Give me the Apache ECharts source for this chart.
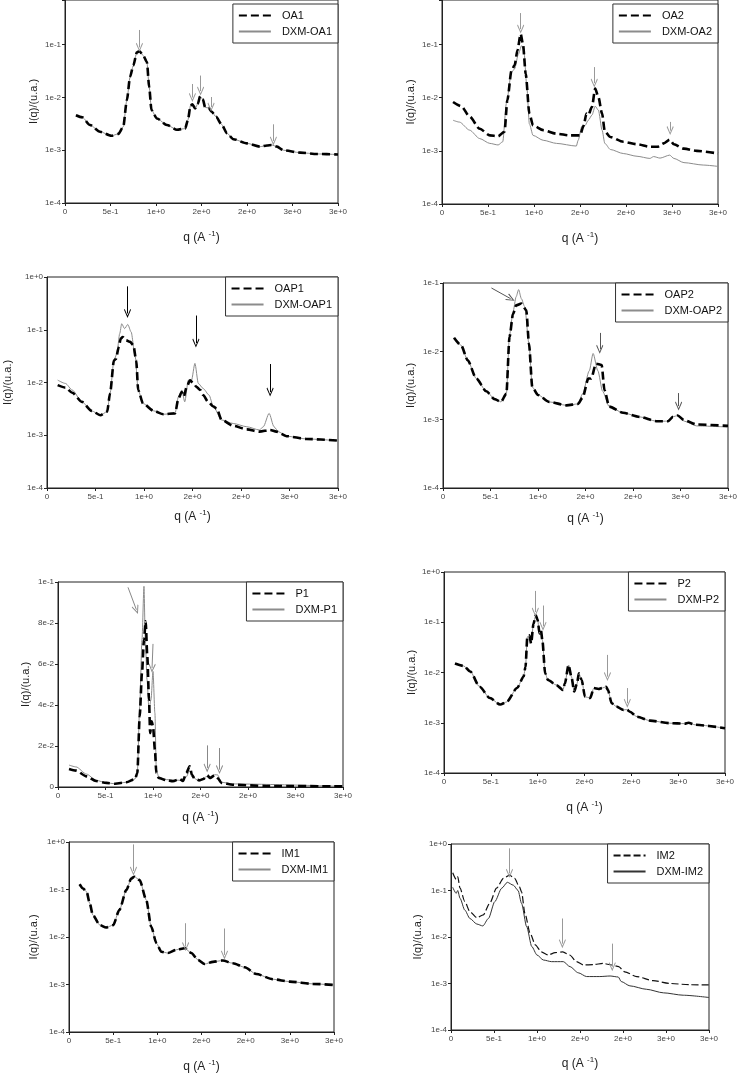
<!DOCTYPE html>
<html><head><meta charset="utf-8">
<script src="https://cdn.jsdelivr.net/npm/echarts@6/dist/echarts.min.js"></script>
<style>html,body{margin:0;padding:0;background:#fff}#c{width:741px;height:1074px}</style>
</head><body><div id="c"></div>
<script>
// ---------- tick labels ----------
const xTickLabels = ['0','5e-1','1e+0','2e+0','2e+0','3e+0','3e+0'];
const logTickLabels = ['1e-4','1e-3','1e-2','1e-1','1e+0'];
const linTickLabels = ['0','2e-2','4e-2','6e-2','8e-2','1e-1'];

// ---------- OA1 ----------
const oa1Q = [0.12,0.19,0.275,0.385,0.51,0.587,0.64,0.68,0.715,0.75,0.79,0.82,0.86,0.9,0.925,0.95,1.01,1.12,1.23,1.32,1.35,1.38,1.40,1.43,1.46,1.485,1.515,1.54,1.58,1.61,1.66,1.72,1.78,1.85,2.0,2.145,2.22,2.27,2.33,2.40,2.585,2.77,3.0];
const oa1I = [4.6e-3,4.2e-3,3.0e-3,2.24e-3,1.88e-3,2.04e-3,2.78e-3,8.9e-3,2.45e-2,4.0e-2,7.2e-2,7.5e-2,6.2e-2,4.7e-2,1.58e-2,5.8e-3,4.0e-3,3.0e-3,2.45e-3,2.57e-3,3.7e-3,7.1e-3,7.4e-3,6.2e-3,7.6e-3,1.05e-2,9.2e-3,6.5e-3,6.3e-3,5.4e-3,4.3e-3,3.1e-3,2.1e-3,1.62e-3,1.35e-3,1.17e-3,1.23e-3,1.26e-3,1.17e-3,1.0e-3,9.0e-4,8.5e-4,8.3e-4];
const dxmOa1Q = oa1Q;
const dxmOa1I = oa1I;
const oa1Arrows = [[[0.818,0.19],[0.818,0.089]],[[1.40,0.018],[1.40,0.0100]],[[1.49,0.026],[1.49,0.0132]],[[1.605,0.0102],[1.605,0.0066]],[[2.29,0.0031],[2.29,0.0015]]];

// ---------- OA2 ----------
const oa2Q = [0.12,0.21,0.30,0.41,0.52,0.61,0.68,0.71,0.755,0.79,0.82,0.855,0.88,0.91,0.95,0.99,1.10,1.245,1.39,1.50,1.54,1.57,1.59,1.63,1.665,1.70,1.74,1.77,1.83,1.97,2.12,2.26,2.34,2.41,2.475,2.52,2.63,2.77,3.0];
const oa2I = [8.3e-3,6.9e-3,4.4e-3,2.6e-3,1.95e-3,1.88e-3,2.3e-3,8.9e-3,3.2e-2,4.1e-2,7.8e-2,0.158,0.102,2.8e-2,5.0e-3,3.0e-3,2.45e-3,2.1e-3,1.95e-3,1.95e-3,3.0e-3,5.0e-3,4.7e-3,6.7e-3,1.48e-2,1.02e-2,5.0e-3,2.3e-3,1.82e-3,1.48e-3,1.33e-3,1.19e-3,1.19e-3,1.38e-3,1.62e-3,1.33e-3,1.10e-3,1.0e-3,8.9e-4];
const dxmOa2Q = [0.12,0.19,0.30,0.41,0.52,0.61,0.66,0.70,0.755,0.79,0.83,0.865,0.89,0.92,0.95,0.99,1.10,1.245,1.46,1.48,1.52,1.555,1.59,1.63,1.665,1.70,1.74,1.77,1.83,1.97,2.12,2.26,2.30,2.37,2.475,2.52,2.63,2.84,3.0];
const dxmOa2I = [3.76e-3,3.47e-3,2.45e-3,1.70e-3,1.38e-3,1.29e-3,1.48e-3,7.8e-3,3.0e-2,3.5e-2,6.6e-2,9.5e-2,7.8e-2,1.8e-2,3.2e-3,1.95e-3,1.58e-3,1.38e-3,1.23e-3,1.58e-3,2.9e-3,3.0e-3,3.76e-3,4.7e-3,6.9e-3,5.8e-3,2.45e-3,1.38e-3,1.06e-3,8.9e-4,7.9e-4,7.2e-4,7.8e-4,7.3e-4,8.3e-4,7.2e-4,6.0e-4,5.4e-4,5.1e-4];
const oa2Arrows = [[[0.855,0.39],[0.855,0.195]],[[1.655,0.0376],[1.655,0.0188]],[[2.48,0.0035],[2.48,0.0024]]];

// ---------- OAP1 ----------
const oap1Q = [0.11,0.19,0.26,0.36,0.46,0.55,0.62,0.65,0.69,0.71,0.74,0.76,0.78,0.815,0.857,0.89,0.92,0.94,0.99,1.10,1.20,1.32,1.355,1.39,1.41,1.44,1.475,1.51,1.54,1.58,1.61,1.66,1.715,1.75,1.80,1.92,2.06,2.19,2.30,2.365,2.47,2.675,3.0];
const oap1I = [8.9e-3,8.0e-3,6.4e-3,4.3e-3,2.9e-3,2.4e-3,2.8e-3,6.2e-3,2.6e-2,2.8e-2,4.7e-2,6.8e-2,7.3e-2,6.3e-2,5.9e-2,5.1e-2,2.6e-2,7.2e-3,4.0e-3,2.9e-3,2.5e-3,2.6e-3,5.0e-3,6.6e-3,5.4e-3,8.3e-3,1.1e-2,9.6e-3,8.3e-3,7.2e-3,5.8e-3,4.3e-3,3.5e-3,3.2e-3,1.95e-3,1.51e-3,1.29e-3,1.17e-3,1.26e-3,1.17e-3,9.6e-4,8.5e-4,7.9e-4];
const dxmOap1Q = [0.11,0.19,0.26,0.36,0.46,0.55,0.62,0.65,0.69,0.72,0.75,0.77,0.80,0.833,0.867,0.909,0.94,0.99,1.10,1.20,1.32,1.355,1.39,1.42,1.457,1.49,1.525,1.56,1.61,1.67,1.715,1.80,1.92,2.06,2.19,2.23,2.29,2.34,2.385,2.47,2.675,3.0];
const dxmOap1I = [1.11e-2,9.6e-3,7.2e-3,4.3e-3,2.9e-3,2.4e-3,2.8e-3,6.2e-3,2.6e-2,3.5e-2,8.5e-2,0.13,0.105,0.126,9.1e-2,3.1e-2,7.2e-3,4.0e-3,2.9e-3,2.5e-3,2.6e-3,5.4e-3,7.2e-3,4.3e-3,1.11e-2,1.11e-2,2.3e-2,9.6e-3,7.7e-3,5.8e-3,3.5e-3,1.95e-3,1.67e-3,1.45e-3,1.26e-3,1.45e-3,2.6e-3,1.45e-3,1.17e-3,9.6e-4,8.5e-4,7.9e-4];
const oap1Arrows = [[[0.83,0.665],[0.83,0.204]],[[1.535,0.186],[1.535,0.056]],[[2.30,0.0224],[2.30,0.0066]]];

// ---------- OAP2 ----------
const oap2Q = [0.116,0.19,0.26,0.35,0.456,0.544,0.61,0.667,0.70,0.737,0.77,0.825,0.877,0.905,0.94,1.0,1.12,1.30,1.42,1.47,1.53,1.56,1.61,1.67,1.70,1.75,1.895,2.07,2.245,2.37,2.42,2.47,2.54,2.67,3.0];
const oap2I = [1.58e-2,1.23e-2,7.4e-3,4.0e-3,2.6e-3,2.0e-3,1.82e-3,2.4e-3,1.62e-2,3.5e-2,4.7e-2,5.0e-2,4.0e-2,1.29e-2,3.0e-3,2.3e-3,1.82e-3,1.62e-3,1.70e-3,2.1e-3,4.0e-3,4.0e-3,6.6e-3,6.3e-3,2.7e-3,1.55e-3,1.26e-3,1.10e-3,9.5e-4,9.5e-4,1.10e-3,1.15e-3,9.8e-4,8.5e-4,8.1e-4];
const dxmOap2Q = [0.116,0.19,0.26,0.35,0.456,0.544,0.61,0.667,0.70,0.737,0.77,0.796,0.825,0.86,0.905,0.94,1.0,1.12,1.30,1.42,1.47,1.54,1.58,1.63,1.68,1.75,1.895,2.07,2.245,2.37,2.42,2.47,2.54,2.67,3.0];
const dxmOap2I = [1.58e-2,1.23e-2,7.4e-3,4.0e-3,2.6e-3,2.0e-3,1.82e-3,2.4e-3,1.72e-2,3.8e-2,6.3e-2,8.0e-2,5.9e-2,4.5e-2,1.29e-2,3.0e-3,2.3e-3,1.82e-3,1.62e-3,1.70e-3,2.4e-3,5.2e-3,9.3e-3,5.2e-3,2.6e-3,1.55e-3,1.26e-3,1.10e-3,9.5e-4,9.5e-4,1.10e-3,1.15e-3,9.5e-4,8.1e-4,7.8e-4];
const oap2Arrows = [[[0.51,0.0845],[0.712,0.059]],[[1.65,0.0186],[1.65,0.0107]],[[2.48,0.00245],[2.48,0.00158]]];

// ---------- P1 (linear) ----------
const p1Q = [0.116,0.19,0.30,0.40,0.51,0.60,0.72,0.81,0.835,0.86,0.884,0.905,0.923,0.94,0.958,0.97,0.986,1.0,1.02,1.035,1.06,1.14,1.21,1.28,1.315,1.35,1.386,1.41,1.44,1.49,1.53,1.57,1.60,1.65,1.68,1.72,1.84,2.19,3.0];
const p1I = [0.0088,0.0080,0.0052,0.0029,0.0020,0.0016,0.0023,0.0039,0.0068,0.0345,0.0556,0.0719,0.0808,0.0637,0.0426,0.0263,0.0320,0.0296,0.0182,0.0068,0.0044,0.0033,0.0028,0.0039,0.0029,0.0068,0.0101,0.0060,0.0039,0.0033,0.0039,0.0057,0.0044,0.0057,0.0044,0.0020,0.0011,0.0005,0.0003];
const dxmP1Q = [0.116,0.19,0.30,0.40,0.51,0.60,0.72,0.81,0.835,0.86,0.884,0.905,0.919,0.937,0.958,0.979,1.0,1.02,1.035,1.06,1.14,1.28,1.35,1.386,1.41,1.49,1.57,1.60,1.65,1.68,1.72,1.84,3.0];
const dxmP1I = [0.0107,0.0098,0.0063,0.0033,0.0020,0.0016,0.0023,0.0039,0.0068,0.0393,0.0719,0.0979,0.0719,0.0524,0.0377,0.0426,0.0564,0.0361,0.0085,0.0049,0.0036,0.0033,0.0049,0.0080,0.0049,0.0028,0.0052,0.0039,0.0060,0.0059,0.0023,0.0015,0.0003];
const p1Arrows = [[[0.737,0.0974],[0.825,0.0865]],[[1.0,0.0698],[0.99,0.058]],[[1.57,0.0203],[1.57,0.0093]],[[1.70,0.019],[1.70,0.0085]]];

// ---------- P2 ----------
const p2Q = [0.117,0.21,0.28,0.38,0.49,0.60,0.67,0.78,0.85,0.87,0.89,0.91,0.93,0.955,0.98,1.0,1.02,1.035,1.05,1.08,1.11,1.20,1.27,1.29,1.33,1.36,1.39,1.42,1.44,1.47,1.505,1.56,1.60,1.65,1.69,1.73,1.75,1.79,1.84,1.915,1.95,1.985,2.06,2.20,2.41,2.57,2.61,2.68,3.0];
const p2I = [1.51e-2,1.35e-2,1.05e-2,5.2e-3,3.1e-3,2.3e-3,2.6e-3,4.9e-3,8.3e-3,1.30e-2,5.1e-2,5.5e-2,3.8e-2,9.3e-2,0.138,0.11,6.0e-2,6.9e-2,4.4e-2,9.6e-3,7.1e-3,5.6e-3,4.5e-3,6.0e-3,1.41e-2,8.3e-3,4.2e-3,6.0e-3,9.6e-3,7.1e-3,3.3e-3,3.1e-3,4.9e-3,4.7e-3,4.9e-3,5.2e-3,4.5e-3,2.45e-3,2.1e-3,1.80e-3,1.83e-3,1.66e-3,1.32e-3,1.10e-3,9.8e-4,9.6e-4,1.0e-3,9.1e-4,7.8e-4];
const dxmP2Q = p2Q;
const dxmP2I = p2I;
const p2Arrows = [[[0.975,0.42],[0.975,0.16]],[[1.057,0.215],[1.057,0.0836]],[[1.745,0.0224],[1.745,0.0083]],[[1.957,0.0049],[1.957,0.00245]]];

// ---------- IM1 ----------
const im1Q = [0.12,0.16,0.20,0.235,0.27,0.35,0.42,0.50,0.57,0.65,0.705,0.74,0.80,0.875,0.93,0.99,1.045,1.12,1.215,1.31,1.385,1.46,1.535,1.63,1.74,1.855,1.99,2.12,2.31,2.50,2.76,3.0];
const im1I = [0.129,0.105,8.9e-2,5.1e-2,2.9e-2,1.78e-2,1.58e-2,1.78e-2,3.7e-2,9.8e-2,0.17,0.186,0.158,6.0e-2,1.66e-2,7.4e-3,4.9e-3,4.6e-3,5.4e-3,5.8e-3,4.6e-3,3.3e-3,2.7e-3,3.0e-3,3.2e-3,2.8e-3,2.3e-3,1.66e-3,1.29e-3,1.15e-3,1.03e-3,9.8e-4];
const dxmIm1Q = im1Q;
const dxmIm1I = im1I;
const im1Arrows = [[[0.73,0.89],[0.73,0.245]],[[1.32,0.0195],[1.32,0.0063]],[[1.76,0.0151],[1.76,0.0042]]];

// ---------- IM2 ----------
const im2Q = [0.02,0.06,0.078,0.105,0.16,0.22,0.30,0.376,0.45,0.53,0.61,0.68,0.74,0.795,0.82,0.86,0.92,0.98,1.05,1.13,1.21,1.30,1.38,1.46,1.54,1.655,1.77,1.87,1.95,2.02,2.16,2.35,2.55,2.78,3.0];
const im2I = [0.24,0.174,0.20,0.112,5.8e-2,3.5e-2,2.6e-2,3.0e-2,5.3e-2,0.112,0.182,0.214,0.182,0.12,9.4e-2,3.2e-2,1.2e-2,6.8e-3,4.8e-3,4.1e-3,4.6e-3,4.8e-3,4.1e-3,2.95e-3,2.5e-3,2.55e-3,2.7e-3,2.5e-3,2.3e-3,1.78e-3,1.41e-3,1.15e-3,1.0e-3,9.4e-4,9.3e-4];
const dxmIm2Q = [0.02,0.06,0.078,0.105,0.16,0.22,0.30,0.37,0.435,0.51,0.59,0.655,0.725,0.78,0.82,0.88,0.94,1.0,1.074,1.17,1.306,1.384,1.48,1.577,1.73,1.85,1.945,1.98,2.08,2.275,2.47,2.70,3.0];
const dxmIm2I = [0.117,8.7e-2,0.10,6.8e-2,3.8e-2,2.5e-2,1.9e-2,1.73e-2,2.5e-2,5.8e-2,0.112,0.15,0.13,0.10,5.3e-2,1.66e-2,6.2e-3,4.1e-3,3.2e-3,2.95e-3,2.95e-3,2.3e-3,1.7e-3,1.41e-3,1.41e-3,1.45e-3,1.38e-3,1.1e-3,8.9e-4,7.5e-4,6.3e-4,5.6e-4,5.0e-4];
const im2Arrows = [[[0.68,0.807],[0.68,0.234]],[[1.295,0.025],[1.295,0.0072]],[[1.875,0.0072],[1.875,0.0023]]];

// ---------- layout / styles ----------
const FONT = 'Liberation Sans, Arial, sans-serif';
const W = 741;
const thick = {type:[8,4], width:2.6, color:'#000'};
const thin = {type:'solid', width:1, color:'#8c8c8c'};
const panels = [
  {names:['OA1','DXM-OA1'], d:[oa1Q,oa1I], x:[dxmOa1Q,dxmOa1I], arrows:oa1Arrows, arrowColor:'#999',
   grid:{left:65,top:-1,width:273,height:204}, yMin:1e-4, yMax:0.703, yNameGap:26, xNameGap:27, leg:{right:W-338,top:4}},
  {names:['OA2','DXM-OA2'], d:[oa2Q,oa2I], x:[dxmOa2Q,dxmOa2I], arrows:oa2Arrows, arrowColor:'#999',
   grid:{left:442,top:-1,width:276,height:205}, yMin:1e-4, yMax:0.687, yNameGap:26, xNameGap:27, leg:{right:W-718,top:4}},
  {names:['OAP1','DXM-OAP1'], d:[oap1Q,oap1I], x:[dxmOap1Q,dxmOap1I], arrows:oap1Arrows, arrowColor:'#000',
   grid:{left:47,top:277,width:291,height:211}, yMin:1e-4, yMax:1, yNameGap:34, xNameGap:21, leg:{right:W-338,top:277}},
  {names:['OAP2','DXM-OAP2'], d:[oap2Q,oap2I], x:[dxmOap2Q,dxmOap2I], arrows:oap2Arrows, arrowColor:'#555',
   grid:{left:443,top:283,width:285,height:205}, yMin:1e-4, yMax:0.1, yNameGap:27, xNameGap:23, leg:{right:W-728,top:283}},
  {names:['P1','DXM-P1'], d:[p1Q,p1I], x:[dxmP1Q,dxmP1I], arrows:p1Arrows, arrowColor:'#888', linear:true,
   grid:{left:58,top:582,width:285,height:205}, yMin:0, yMax:0.1, yNameGap:27, xNameGap:23, leg:{right:W-343,top:582}},
  {names:['P2','DXM-P2'], d:[p2Q,p2I], x:[dxmP2Q,dxmP2I], arrows:p2Arrows, arrowColor:'#999',
   grid:{left:444,top:572,width:281,height:201}, yMin:1e-4, yMax:1, yNameGap:27, xNameGap:27, leg:{right:W-725,top:572}},
  {names:['IM1','DXM-IM1'], d:[im1Q,im1I], x:[dxmIm1Q,dxmIm1I], arrows:im1Arrows, arrowColor:'#999',
   grid:{left:69,top:842,width:265,height:190}, yMin:1e-4, yMax:1, yNameGap:30, xNameGap:27, leg:{right:W-334,top:842}},
  {names:['IM2','DXM-IM2'], d:[im2Q,im2I], x:[dxmIm2Q,dxmIm2I], arrows:im2Arrows, arrowColor:'#999',
   grid:{left:451,top:844,width:258,height:186}, yMin:1e-4, yMax:1, yNameGap:28, xNameGap:26, leg:{right:W-709,top:844},
   thickStyle:{type:[7,3], width:1.2, color:'#111'}, thinStyle:{type:'solid', width:1, color:'#333'}}
];

const zip = (q, v) => q.map((x, i) => [x, v[i]]);
const logFmt = v => { const e = Math.log10(v); const r = Math.round(e); if (Math.abs(e - r) > 1e-6) return ''; return logTickLabels[r + 4] || ''; };
const linFmt = v => { const k = v / 0.02; const r = Math.round(k); if (Math.abs(k - r) > 1e-6) return ''; return linTickLabels[r] || ''; };
const xFmt = v => { const k = v / 0.5; const r = Math.round(k); if (Math.abs(k - r) > 1e-6) return ''; return xTickLabels[r] || ''; };
const arrowHead = 'path://M5,0 L10,9 L9,10 L5,2.6 L1,10 L0,9 Z';

const option = {animation:false, backgroundColor:'#fff', textStyle:{fontFamily:FONT},
  grid:[], xAxis:[], yAxis:[], series:[], legend:[]};

panels.forEach((p, i) => {
  option.grid.push(Object.assign({show:true, borderColor:'#222', borderWidth:1, backgroundColor:'transparent'}, p.grid));
  option.xAxis.push({type:'value', gridIndex:i, min:0, max:3, interval:0.5,
    name:'q (A {sup|-1})', nameLocation:'middle', nameGap:p.xNameGap,
    nameTextStyle:{fontSize:12, color:'#222', fontFamily:FONT, rich:{sup:{fontSize:8, color:'#222', fontFamily:FONT, verticalAlign:'bottom', padding:[0,0,7,0]}}},
    axisLine:{show:true, onZero:false, lineStyle:{color:'#222', width:1}},
    axisTick:{show:true, inside:false, length:3, lineStyle:{color:'#222'}},
    axisLabel:{fontSize:8, color:'#444', margin:5, formatter:xFmt, fontFamily:FONT},
    splitLine:{show:false}});
  option.yAxis.push({type:p.linear ? 'value' : 'log', logBase:10, gridIndex:i, min:p.yMin, max:p.yMax,
    interval: p.linear ? 0.02 : undefined,
    name:'I(q)/(u.a.)', nameLocation:'middle', nameGap:p.yNameGap, nameRotate:90,
    nameTextStyle:{fontSize:11, color:'#222', fontFamily:FONT},
    axisLine:{show:true, onZero:false, lineStyle:{color:'#222', width:1}},
    axisTick:{show:true, inside:false, length:3, lineStyle:{color:'#222'}},
    axisLabel:{fontSize:8, color:'#444', margin:4, formatter:p.linear ? linFmt : logFmt, fontFamily:FONT, showMaxLabel:true},
    splitLine:{show:false}});
  const ts = p.thickStyle || thick, tn = p.thinStyle || thin;
  option.series.push({type:'line', name:p.names[1], xAxisIndex:i, yAxisIndex:i, data:zip(p.x[0], p.x[1]),
    symbol:'none', smooth:0.25, smoothMonotone:'x', lineStyle:tn, itemStyle:{color:tn.color}, z:2});
  option.series.push({type:'line', name:p.names[0], xAxisIndex:i, yAxisIndex:i, data:zip(p.d[0], p.d[1]),
    symbol:'none', smooth:0.25, smoothMonotone:'x', lineStyle:ts, itemStyle:{color:ts.color}, z:3,
    markLine:{silent:true, symbol:['none', arrowHead], symbolSize:[7,9],
      lineStyle:{color:p.arrowColor, width:1, type:'solid'}, label:{show:false}, emphasis:{disabled:true},
      data:p.arrows.map(a => [{coord:a[0]}, {coord:a[1]}])}});
  option.legend.push({data:[p.names[0], p.names[1]], orient:'vertical', right:p.leg.right, top:p.leg.top,
    backgroundColor:'#fff', borderColor:'#333', borderWidth:1, borderRadius:0, padding:[6,6,6,5],
    itemWidth:32, itemHeight:12, itemGap:5, selectedMode:false,
    itemStyle:{opacity:0},
    textStyle:{fontSize:11, color:'#111', fontFamily:FONT, padding:[0,0,0,6]}});
});

const chart = echarts.init(document.getElementById('c'), null, {renderer:'canvas'});
chart.setOption(option);
</script></body></html>
